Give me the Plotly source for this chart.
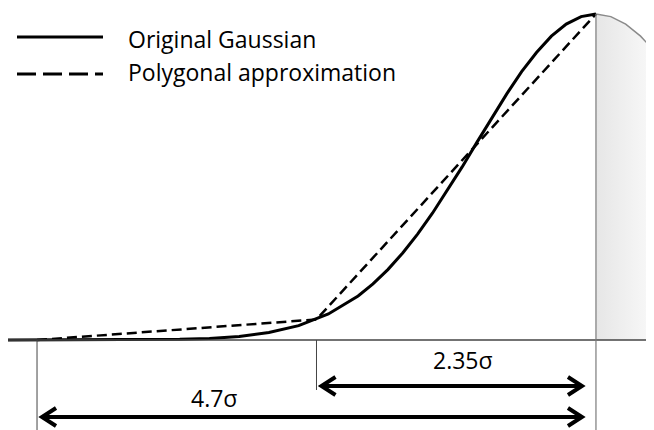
"""Gaussian vs. polygonal approximation sketch."""

import plotly.graph_objects as go

# Gaussian profile, x in units of sigma (peak at 0), height normalised to 1
GAUSS_X = [-4.95, -4.5, -4.0, -3.75, -3.5, -3.25, -3.0, -2.75, -2.5, -2.25,
           -2.0, -1.875, -1.75, -1.625, -1.5, -1.375, -1.25, -1.125, -1.0,
           -0.875, -0.75, -0.625, -0.5, -0.375, -0.25, -0.125, 0.0]
GAUSS_Y = [0.0, 0.0, 0.0003, 0.0009, 0.002, 0.005, 0.011, 0.023, 0.044, 0.08,
           0.135, 0.172, 0.216, 0.267, 0.325, 0.389, 0.458, 0.531, 0.607,
           0.682, 0.755, 0.823, 0.882, 0.932, 0.969, 0.992, 1.0]

# falling side of the curve (shaded, grey)
TAIL_X = [0.0, 0.125, 0.25, 0.375, 0.49]
TAIL_Y = [1.0, 0.992, 0.969, 0.932, 0.887]

# polygon vertices
POLY_X = [-4.7, -2.35, 0.0]
POLY_Y = [0.0, 0.063, 1.0]

# width markers below the axis
SPANS = [2.35, 4.7]
SPAN_LABELS = ["2.35σ", "4.7σ"]

FONT = "Open Sans"
OFF = 8  # page margin around the plot div
W, H = 654 - OFF, 430 - OFF
X_RANGE = [-4.944, 0.488]
Y_RANGE = [-0.276, 1.0184]
PX_X = W / (X_RANGE[1] - X_RANGE[0])
PX_Y = H / (Y_RANGE[1] - Y_RANGE[0])


def data_y(screen_y):
    return Y_RANGE[1] - (screen_y - OFF) / PX_Y


fig = go.Figure()

fig.add_trace(go.Scatter(
    x=TAIL_X, y=TAIL_Y, mode="lines", name="tail",
    line=dict(color="#8a8a8a", width=1.5),
    fill="tozeroy",
    fillgradient=dict(type="horizontal",
                      colorscale=[[0, "#e6e6e6"], [1, "#f9f9f9"]]),
    hoverinfo="skip",
))

# axis line
fig.add_shape(type="line", x0=X_RANGE[0], x1=X_RANGE[1], y0=0, y1=0,
              line=dict(color="#444444", width=1.5))

fig.add_trace(go.Scatter(
    x=GAUSS_X, y=GAUSS_Y, mode="lines", name="Original Gaussian",
    line=dict(color="black", width=3),
))
fig.add_trace(go.Scatter(
    x=POLY_X, y=POLY_Y, mode="lines", name="Polygonal approximation",
    line=dict(color="black", width=2.5, dash="10px,5px"),
))

# guide lines
fig.add_shape(type="line", x0=0, x1=0, y0=1, y1=Y_RANGE[0],
              line=dict(color="#7a7a7a", width=1.2))
fig.add_shape(type="line", x0=-4.7, x1=-4.7, y0=0, y1=Y_RANGE[0],
              line=dict(color="#444444", width=1))
fig.add_shape(type="line", x0=-2.35, x1=-2.35, y0=0, y1=data_y(390),
              line=dict(color="#444444", width=1))

# double arrows
arrow_y = [data_y(386), data_y(417)]
label_pos = [(-1.117, data_y(360)), (-3.216, data_y(398))]
head_dx = 14 / PX_X
head_dy = 9 / PX_Y
for span, label, ay, (lx, ly) in zip(SPANS, SPAN_LABELS, arrow_y, label_pos):
    x0 = -span + 5 / PX_X
    x1 = -14 / PX_X
    path = (
        f"M{x0},{ay} L{x1},{ay} "
        f"M{x0 + head_dx},{ay + head_dy} L{x0},{ay} L{x0 + head_dx},{ay - head_dy} "
        f"M{x1 - head_dx},{ay + head_dy} L{x1},{ay} L{x1 - head_dx},{ay - head_dy}"
    )
    fig.add_shape(type="path", path=path, line=dict(color="black", width=4))
    fig.add_annotation(x=lx, y=ly, text=label, showarrow=False,
                       font=dict(family=FONT, size=23, color="black"))

# hand-made legend (screen pixel positions)
legend_rows = [("Original Gaussian", "solid", 37, 39),
               ("Polygonal approximation", "19px,7px", 74, 72)]
for name, dash, line_y, text_y in legend_rows:
    fig.add_shape(type="line", xref="paper", yref="paper",
                  x0=(17 - OFF) / W, x1=(103 - OFF) / W,
                  y0=1 - (line_y - OFF) / H, y1=1 - (line_y - OFF) / H,
                  line=dict(color="black", width=3, dash=dash))
    fig.add_annotation(xref="paper", yref="paper", x=(126 - OFF) / W,
                       y=1 - (text_y - OFF) / H,
                       xanchor="left", yanchor="middle", text=name,
                       showarrow=False,
                       font=dict(family=FONT, size=23, color="black"))

fig.update_layout(
    width=W,
    height=H,
    margin=dict(l=0, r=0, t=0, b=0),
    paper_bgcolor="white",
    plot_bgcolor="white",
    showlegend=False,
    xaxis=dict(range=X_RANGE, visible=False, fixedrange=True),
    yaxis=dict(range=Y_RANGE, visible=False, fixedrange=True),
)

fig.write_html("out.html")
